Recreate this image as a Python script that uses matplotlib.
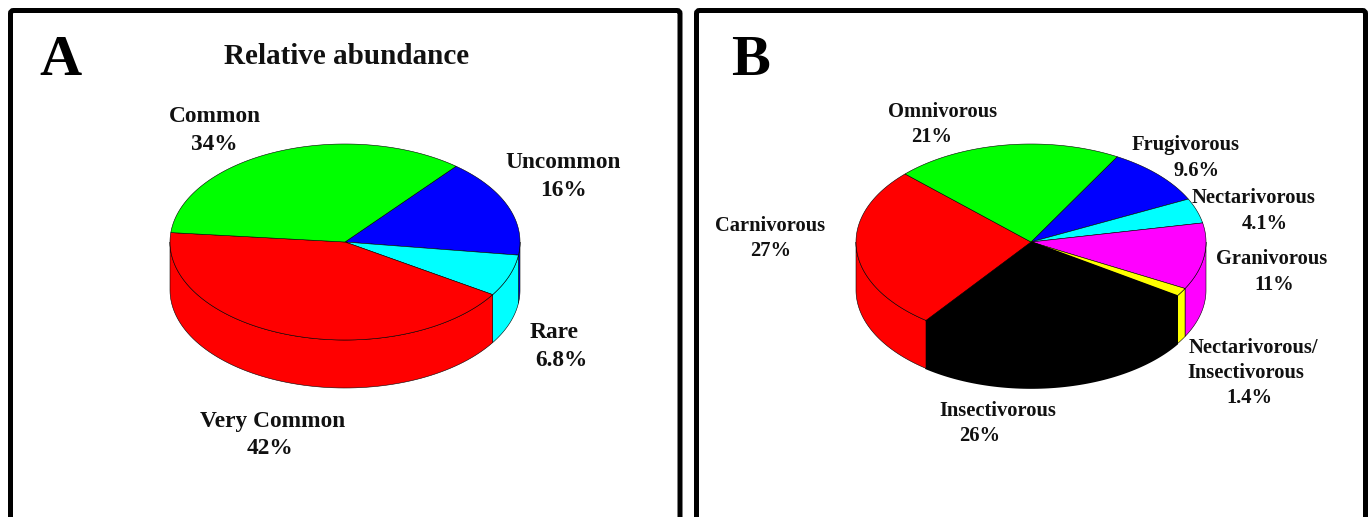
"""Two 3D-look pie panels: relative abundance and feeding guilds."""

import numpy as np
import matplotlib
matplotlib.use("Agg")
import matplotlib.pyplot as plt
from matplotlib.patches import Polygon, FancyBboxPatch

plt.rcParams["font.family"] = ["Liberation Serif", "DejaVu Serif"]

# Panel A, clockwise from the top right
abund_labels = ["Uncommon", "Rare", "Very Common", "Common"]
abund_values = [16, 6.8, 42, 34]
abund_colors = ["#0000ff", "#00ffff", "#ff0000", "#00ff00"]

# Panel B, clockwise from the top right
guild_labels = ["Frugivorous", "Nectarivorous", "Granivorous",
                "Nectarivorous/", "Insectivorous", "Carnivorous", "Omnivorous"]
guild_values = [9.6, 4.1, 11, 1.4, 26, 27, 21]
guild_colors = ["#0000ff", "#00ffff", "#ff00ff", "#ffff00",
                "#000000", "#ff0000", "#00ff00"]

W, H = 1368, 517
RX, RY, DEPTH = 175, 98, 48
LINE = "#000000"


def ell(cx, cy, theta):
    return cx + RX * np.cos(theta), cy - RY * np.sin(theta)


def edge_width(col):
    # a thicker edge on the black slice hides the seam between top and side
    return 1.2 if col == "#000000" else 0.4


def draw_pie(ax, cx, cy, values, colors, start):
    fracs = np.array(values) / np.sum(values)
    edges = start - np.concatenate([[0], np.cumsum(fracs)]) * 360

    # side wall first, only the part facing the viewer
    for i, col in enumerate(colors):
        hi, lo = edges[i], edges[i + 1]
        for k in (-360, 0, 360):
            a = min(hi, 0 + k)
            b = max(lo, -180 + k)
            if a <= b:
                continue
            t = np.radians(np.linspace(a, b, 80))
            x, y = ell(cx, cy, t)
            pts = np.vstack([np.c_[x, y], np.c_[x, y + DEPTH][::-1]])
            ax.add_patch(Polygon(pts, closed=True, fc=col, ec=LINE,
                                 lw=edge_width(col), zorder=2))

    # top face
    for i, col in enumerate(colors):
        t = np.radians(np.linspace(edges[i], edges[i + 1], 120))
        x, y = ell(cx, cy, t)
        pts = np.vstack([[cx, cy], np.c_[x, y]])
        ax.add_patch(Polygon(pts, closed=True, fc=col, ec=LINE,
                             lw=edge_width(col), zorder=3))


def label(ax, x, y, s, size=16.8):
    ax.text(x, y + 2, s, ha="center", va="center", fontsize=size,
            fontweight="bold", color="#111111", zorder=5)


def main():
    fig = plt.figure(figsize=(W / 100, H / 100), dpi=100)
    ax = fig.add_axes([0, 0, 1, 1])
    ax.set_xlim(0, W)
    ax.set_ylim(H, 0)
    ax.axis("off")

    # panel frames, open at the bottom edge of the image
    for x0, x1 in ((10.5, 680), (696.5, 1365.5)):
        ax.add_patch(FancyBboxPatch((x0, 10.5), x1 - x0, 560,
                                    boxstyle="round,pad=0,rounding_size=3",
                                    fc="white", ec="black", lw=3.6, zorder=1))

    draw_pie(ax, 345, 242, abund_values, abund_colors, 50.6)
    draw_pie(ax, 1031, 242, guild_values, guild_colors, 60.5)

    ax.text(60, 75, "A", ha="center", va="baseline", fontsize=42, fontweight="bold")
    ax.text(750, 75, "B", ha="center", va="baseline", fontsize=42, fontweight="bold")
    label(ax, 347, 54, "Relative abundance", 21)

    pct = [f"{v:g}%" for v in abund_values]
    label(ax, 563, 161, abund_labels[0]); label(ax, 563, 189, pct[0])
    label(ax, 554, 331, abund_labels[1]); label(ax, 561, 359, pct[1])
    label(ax, 273, 419, abund_labels[2]); label(ax, 270, 447, pct[2])
    label(ax, 215, 115, abund_labels[3]); label(ax, 214, 142, pct[3])

    pct = [f"{v:g}%" for v in guild_values]
    s = 14.8
    label(ax, 1186, 143, guild_labels[0], s); label(ax, 1196, 169, pct[0], s)
    label(ax, 1254, 196, guild_labels[1], s); label(ax, 1265, 222, pct[1], s)
    label(ax, 1272, 257, guild_labels[2], s); label(ax, 1274, 283, pct[2], s)
    label(ax, 1253, 346, guild_labels[3], s)
    label(ax, 1246, 371, guild_labels[4], s); label(ax, 1249, 396, pct[3], s)
    label(ax, 998, 409, guild_labels[4], s); label(ax, 980, 434, pct[4], s)
    label(ax, 770, 224, guild_labels[5], s); label(ax, 771, 249, pct[5], s)
    label(ax, 943, 110, guild_labels[6], s); label(ax, 932, 135, pct[6], s)

    fig.savefig("out.png", dpi=100)
    plt.close(fig)


if __name__ == "__main__":
    main()
